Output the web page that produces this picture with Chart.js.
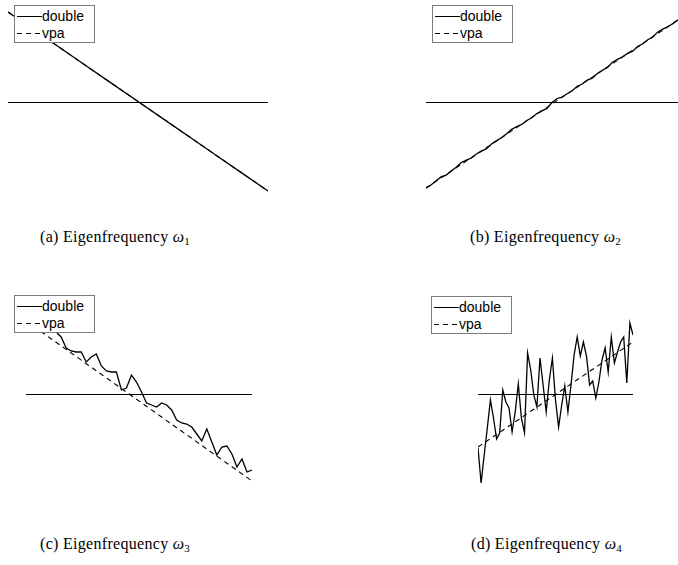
<!DOCTYPE html>
<html>
<head>
<meta charset="utf-8">
<script src="https://cdn.jsdelivr.net/npm/chart.js@4"></script>
<style>
  html, body { margin: 0; padding: 0; background: #fff; overflow: hidden; }
  body { position: relative; width: 678px; height: 565px; }
  canvas { position: absolute; }
  .legend { position: absolute; width: 79px; height: 36px; border: 1px solid #7a7a7a; background: #fff;
            font-family: "Liberation Sans", Arial, sans-serif; font-size: 14px; color: #000; z-index: 2; }
  .legend .solid { position: absolute; left: 2px; width: 25px; height: 0; border-top: 1.3px solid #000; }
  .legend .dash { position: absolute; left: 2px; width: 25px; height: 1.2px;
                  background: repeating-linear-gradient(to right, #000 0 5px, transparent 5px 9px); }
  .legend .txt { position: absolute; left: 27px; line-height: 16px; }
  .caption { position: absolute; font-family: "Liberation Serif", "Times New Roman", serif; font-size: 16px;
             color: #000; white-space: nowrap; letter-spacing: 0.3px; }
  .caption sub { font-size: 11px; vertical-align: -3px; line-height: 0; }
</style>
</head>
<body>
<canvas id="chartA" width="260" height="200" style="left:8px;top:0px;width:260px;height:200px"></canvas>
<canvas id="chartB" width="252" height="200" style="left:426px;top:0px;width:252px;height:200px"></canvas>
<canvas id="chartC" width="226" height="200" style="left:26px;top:290px;width:226px;height:200px"></canvas>
<canvas id="chartD" width="155" height="200" style="left:478px;top:290px;width:155px;height:200px"></canvas>

<div class="legend" style="left:14px;top:5px">
  <div class="solid" style="top:9.5px"></div><div class="txt" style="top:2px">double</div>
  <div class="dash" style="top:26.5px"></div><div class="txt" style="top:19px">vpa</div>
</div>
<div class="legend" style="left:432px;top:5px">
  <div class="solid" style="top:9.5px"></div><div class="txt" style="top:2px">double</div>
  <div class="dash" style="top:26.5px"></div><div class="txt" style="top:19px">vpa</div>
</div>
<div class="legend" style="left:14px;top:295px">
  <div class="solid" style="top:9.5px"></div><div class="txt" style="top:2px">double</div>
  <div class="dash" style="top:26.5px"></div><div class="txt" style="top:19px">vpa</div>
</div>
<div class="legend" style="left:431px;top:296px">
  <div class="solid" style="top:9.5px"></div><div class="txt" style="top:2px">double</div>
  <div class="dash" style="top:26.5px"></div><div class="txt" style="top:19px">vpa</div>
</div>

<div class="caption" style="left:40px;top:228px">(a) Eigenfrequency <i>ω</i><sub>1</sub></div>
<div class="caption" style="left:470px;top:228px">(b) Eigenfrequency <i>ω</i><sub>2</sub></div>
<div class="caption" style="left:40px;top:535px">(c) Eigenfrequency <i>ω</i><sub>3</sub></div>
<div class="caption" style="left:471px;top:535px">(d) Eigenfrequency <i>ω</i><sub>4</sub></div>

<script>
// Eigenfrequency deviation per sample, double precision vs. variable precision (vpa)

// (a) omega_1
const doubleA = [0.900, 0.721, 0.542, 0.363, 0.184, 0.005, -0.174, -0.353, -0.532, -0.711, -0.890];
const vpaA    = [0.900, 0.721, 0.542, 0.363, 0.184, 0.005, -0.174, -0.353, -0.532, -0.711, -0.890];

// (b) omega_2
const doubleB = [-0.860, -0.830, -0.788, -0.749, -0.731, -0.690, -0.652, -0.605, -0.581, -0.560,
                 -0.520, -0.492, -0.467, -0.420, -0.386, -0.358, -0.318, -0.274, -0.245, -0.224,
                 -0.185, -0.157, -0.116, -0.089, -0.064, -0.005, 0.034, 0.050, 0.083, 0.112,
                 0.158, 0.180, 0.219, 0.239, 0.285, 0.318, 0.346, 0.398, 0.427, 0.452,
                 0.486, 0.508, 0.554, 0.583, 0.622, 0.650, 0.701, 0.729, 0.755, 0.784, 0.822];
const vpaB    = [-0.860, -0.826, -0.793, -0.759, -0.726, -0.692, -0.658, -0.625, -0.591, -0.558,
                 -0.524, -0.490, -0.457, -0.423, -0.390, -0.356, -0.322, -0.289, -0.255, -0.222,
                 -0.188, -0.154, -0.121, -0.087, -0.054, -0.020, 0.014, 0.047, 0.081, 0.114,
                 0.148, 0.182, 0.215, 0.249, 0.282, 0.316, 0.350, 0.383, 0.417, 0.450,
                 0.484, 0.518, 0.551, 0.585, 0.618, 0.652, 0.686, 0.719, 0.753, 0.786, 0.820];

// (c) omega_3
const doubleC = [0.76, 0.74, 0.68, 0.70, 0.64, 0.66, 0.62, 0.57, 0.46, 0.43,
                 0.42, 0.42, 0.32, 0.37, 0.40, 0.28, 0.23, 0.22, 0.22, 0.04,
                 0.06, 0.19, 0.12, 0.02, -0.09, -0.11, -0.13, -0.09, -0.11, -0.16,
                 -0.26, -0.29, -0.30, -0.33, -0.40, -0.47, -0.35, -0.48, -0.61, -0.53,
                 -0.52, -0.60, -0.73, -0.65, -0.78, -0.76];
const vpaC    = [0.730, 0.694, 0.659, 0.623, 0.588, 0.552, 0.517, 0.481, 0.446, 0.410,
                 0.374, 0.339, 0.303, 0.268, 0.232, 0.197, 0.161, 0.126, 0.090, 0.054,
                 0.019, -0.017, -0.052, -0.088, -0.123, -0.159, -0.194, -0.230, -0.266, -0.301,
                 -0.337, -0.372, -0.408, -0.443, -0.479, -0.514, -0.550, -0.586, -0.621, -0.657,
                 -0.692, -0.728, -0.763, -0.799, -0.834, -0.870];

// (d) omega_4
const doubleD = [-0.54, -0.89, -0.61, -0.34, -0.06, -0.24, -0.45, -0.39, 0.04, -0.08,
                 -0.14, -0.38, -0.18, 0.10, -0.24, -0.39, 0.41, 0.24, -0.01, -0.13,
                 0.36, 0.09, -0.18, 0.14, 0.36, -0.06, -0.33, -0.11, 0.08, -0.18,
                 0.09, 0.39, 0.57, 0.38, 0.52, 0.38, 0.09, 0.13, -0.04, 0.12,
                 0.34, 0.46, 0.22, 0.57, 0.31, 0.42, 0.52, 0.57, 0.11, 0.71, 0.59];
const vpaD    = [-0.530, -0.509, -0.488, -0.467, -0.446, -0.425, -0.404, -0.383, -0.362, -0.341,
                 -0.320, -0.299, -0.278, -0.257, -0.236, -0.215, -0.194, -0.173, -0.152, -0.131,
                 -0.110, -0.089, -0.068, -0.047, -0.026, -0.005, 0.016, 0.037, 0.058, 0.079,
                 0.100, 0.121, 0.142, 0.163, 0.184, 0.205, 0.226, 0.247, 0.268, 0.289,
                 0.310, 0.331, 0.352, 0.373, 0.394, 0.415, 0.436, 0.457, 0.478, 0.499, 0.520];

// Sample numbers used as the category axis of each panel
const samplesA = doubleA.map((_, i) => i + 1);
const samplesB = doubleB.map((_, i) => i + 1);
const samplesC = doubleC.map((_, i) => i + 1);
const samplesD = doubleD.map((_, i) => i + 1);

// Horizontal reference line at zero deviation, snapped to the pixel grid so it stays crisp
const zeroLine = {
  id: 'zeroLine',
  beforeDatasetsDraw(chart) {
    const { ctx, chartArea: a, scales: { y } } = chart;
    const py = Math.round(y.getPixelForValue(0)) + 0.5;
    ctx.save();
    ctx.strokeStyle = '#000';
    ctx.lineWidth = 1.2;
    ctx.beginPath();
    ctx.moveTo(a.left, py);
    ctx.lineTo(a.right, py);
    ctx.stroke();
    ctx.restore();
  }
};

function makePanel(id, labels, doubleVals, vpaVals, yMin, yMax) {
  return new Chart(document.getElementById(id), {
    type: 'line',
    data: {
      labels: labels,
      datasets: [
        { label: 'double', data: doubleVals, borderColor: '#000', borderWidth: 1.3,
          pointRadius: 0, tension: 0, fill: false },
        { label: 'vpa', data: vpaVals, borderColor: '#000', borderWidth: 1.1, borderDash: [5, 4],
          pointRadius: 0, tension: 0, fill: false }
      ]
    },
    options: {
      responsive: false,
      animation: false,
      events: [],
      layout: { padding: 0 },
      plugins: { legend: { display: false }, tooltip: { enabled: false } },
      scales: {
        x: { display: false, offset: false },
        y: { display: false, min: yMin, max: yMax }
      }
    },
    plugins: [zeroLine]
  });
}

makePanel('chartA', samplesA, doubleA, vpaA, -0.98, 1.02);
makePanel('chartB', samplesB, doubleB, vpaB, -0.98, 1.02);
makePanel('chartC', samplesC, doubleC, vpaC, -0.96, 1.04);
makePanel('chartD', samplesD, doubleD, vpaD, -0.96, 1.04);
</script>
</body>
</html>
